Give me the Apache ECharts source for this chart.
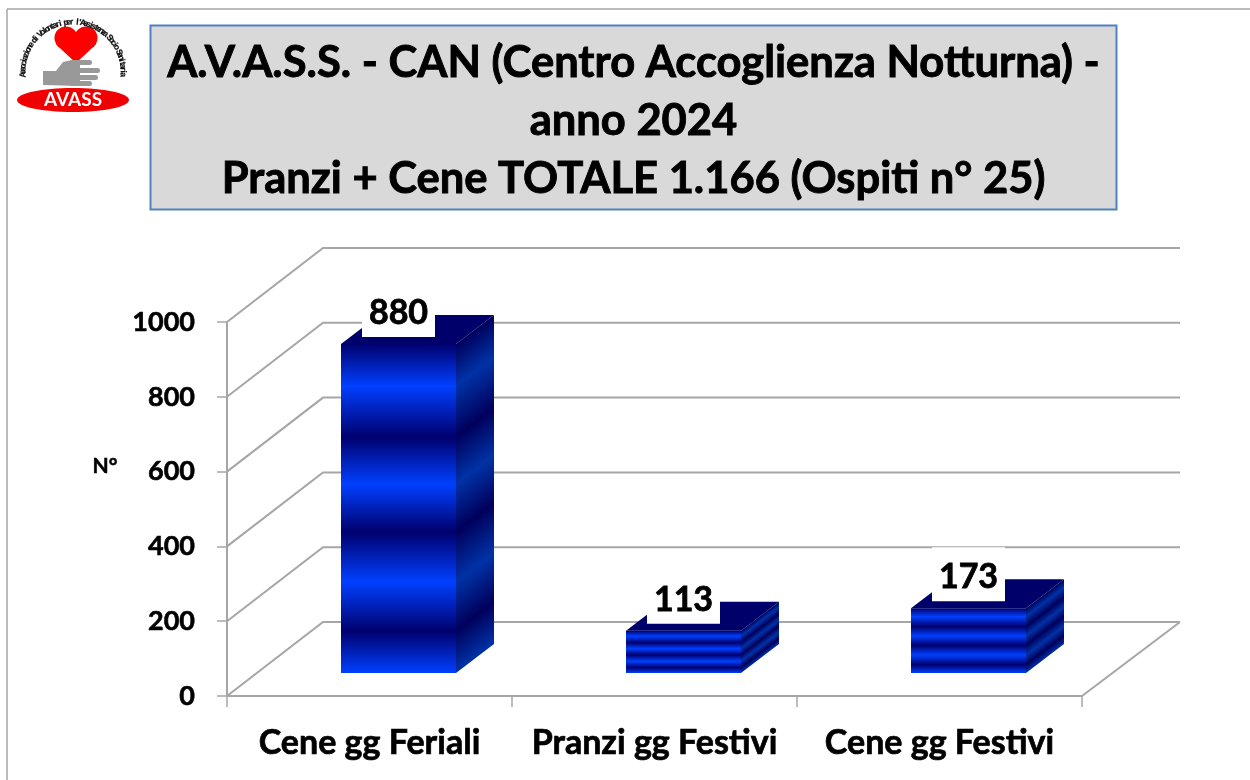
<!DOCTYPE html>
<html>
<head>
<meta charset="utf-8">
<style>html,body{margin:0;padding:0;background:#fff}#c{width:1250px;height:780px}</style>
<script src="https://cdn.jsdelivr.net/npm/echarts@6/dist/echarts.min.js"></script>
</head>
<body>
<div id="c"></div>
<script>
const categories = ['Cene gg Feriali', 'Pranzi gg Festivi', 'Cene gg Festivi'];
const values = [880, 113, 173];
const yTicks = [0, 200, 400, 600, 800, 1000];
const titleLines = ['A.V.A.S.S. - CAN (Centro Accoglienza Notturna) -', 'anno 2024', 'Pranzi + Cene TOTALE 1.166 (Ospiti n° 25)'];
const yName = 'N°';
const logoRing = "Associazione di Volontari per l'Assistenza Socio Sanitaria";
const logoName = 'AVASS';

const FONT = 'Lato, "Open Sans", sans-serif';
const GREY = '#A6A6A6';
const WALL = { dx: 96, dy: -74, floorRight: 98 };
const BAR = { w: 115, shift: 29, dx: 38, dy: -29, lift: 23 };
const bandPos = [0, 0.128, 0.283, 0.426, 0.571, 0.723, 0.872, 1];
const frontCols = ['#00006E', '#0040FF'];
const sideCols = ['#00005C', '#0032A6'];
const stops = cols => bandPos.map((offset, i) => ({ offset, color: cols[i % 2] }));

function renderWall(params, api) {
  const cs = params.coordSys;
  const y = api.coord([0, api.value(1)])[1];
  const L = cs.x, R = cs.x + cs.width;
  const style = { stroke: GREY, lineWidth: 2, fill: null };
  const kids = [
    { type: 'polyline', shape: { points: [[L, y], [L + WALL.dx, y + WALL.dy], [R + WALL.floorRight, y + WALL.dy]] }, style }
  ];
  if (api.value(1) === 0) {
    kids.push({ type: 'line', shape: { x1: R, y1: y, x2: R + WALL.floorRight, y2: y + WALL.dy }, style });
  }
  return { type: 'group', children: kids };
}

function renderBar(params, api) {
  const top = api.coord([api.value(0), api.value(1)]);
  const base = api.coord([api.value(0), 0]);
  const x0 = top[0] + BAR.shift - BAR.w / 2, x1 = x0 + BAR.w;
  const yT = top[1] - BAR.lift, yB = base[1] - BAR.lift;
  const h = yB - yT;
  const nx = (-BAR.dy / BAR.dx) / h, ny = 1 / h, n2 = nx * nx + ny * ny;
  const sideGrad = new echarts.graphic.LinearGradient(x1, yT, x1 + nx / n2, yT + ny / n2, stops(sideCols), true);
  const frontGrad = new echarts.graphic.LinearGradient(0, yT, 0, yB, stops(frontCols), true);
  const boxW = 73, boxH = 54, boxX = x0 + 21;
  return {
    type: 'group',
    children: [
      { type: 'polygon', shape: { points: [[x0, yT], [x0 + BAR.dx, yT + BAR.dy], [x1 + BAR.dx, yT + BAR.dy], [x1, yT]] }, style: { fill: '#00006A' } },
      { type: 'polygon', shape: { points: [[x1, yT], [x1 + BAR.dx, yT + BAR.dy], [x1 + BAR.dx, yB + BAR.dy], [x1, yB]] }, style: { fill: sideGrad } },
      { type: 'rect', shape: { x: x0, y: yT, width: BAR.w, height: h }, style: { fill: frontGrad } },
      { type: 'rect', shape: { x: boxX, y: yT - 7 - boxH, width: boxW, height: boxH }, style: { fill: '#fff' } },
      { type: 'text', x: boxX + boxW / 2, y: yT - 31, style: { text: String(api.value(1)), fill: '#000', stroke: '#000', lineWidth: 0.8, font: 'bold 34px ' + FONT, align: 'center', verticalAlign: 'middle' } }
    ]
  };
}

const ringCenter = [73, 72], ringR = 50, ringSpan = 186;
const ringEls = Array.from(logoRing).map((ch, i, arr) => {
  const deg = -ringSpan / 2 + ringSpan * i / (arr.length - 1);
  const t = deg * Math.PI / 180;
  return {
    type: 'text', z: 3, x: ringCenter[0] + ringR * Math.sin(t), y: ringCenter[1] - ringR * Math.cos(t), rotation: -t,
    style: { text: ch, fill: '#111', stroke: '#111', lineWidth: 0.2, font: 'bold 8.5px "Liberation Sans Narrow", "Liberation Sans", sans-serif', align: 'center', verticalAlign: 'middle' }
  };
});

const chart = echarts.init(document.getElementById('c'), null, { renderer: 'canvas' });
chart.setOption({
  animation: false,
  backgroundColor: '#fff',
  title: {
    text: titleLines.join('\n'), left: 628.5, top: 29, textAlign: 'center',
    textStyle: { fontFamily: FONT, fontWeight: 'bold', fontSize: 43.5, lineHeight: 58, color: '#000', textBorderColor: '#000', textBorderWidth: 0.9 }
  },
  grid: { left: 227, right: 168, top: 322, bottom: 84 },
  xAxis: {
    type: 'category', data: categories,
    axisLine: { show: true, lineStyle: { color: GREY, width: 2 } },
    axisTick: { show: true, alignWithLabel: false, length: 11, lineStyle: { color: GREY, width: 1.5 } },
    axisLabel: { color: '#000', fontFamily: FONT, fontWeight: 'bold', fontSize: 34, margin: 30, interval: 0, textBorderColor: '#000', textBorderWidth: 0.7 }
  },
  yAxis: {
    type: 'value', min: 0, max: 1000, interval: 200,
    axisLine: { show: true, lineStyle: { color: GREY, width: 2 } },
    axisTick: { show: true, length: 10, lineStyle: { color: GREY, width: 1.5 } },
    axisLabel: { color: '#000', fontFamily: FONT, fontWeight: 'bold', fontSize: 27, margin: 32, textBorderColor: '#000', textBorderWidth: 0.6, formatter: v => String(v) },
    splitLine: { show: false }
  },
  series: [
    { type: 'custom', z: 1, silent: true, renderItem: renderWall, encode: { x: 0, y: 1 }, data: yTicks.map(v => [0, v]) },
    { type: 'custom', z: 2, silent: true, renderItem: renderBar, encode: { x: 0, y: 1 }, data: values.map((v, i) => [i, v]) }
  ],
  graphic: [
    { type: 'line', shape: { x1: 7, y1: 9, x2: 1250, y2: 9 }, style: { stroke: GREY, lineWidth: 1.5 }, z: 0 },
    { type: 'line', shape: { x1: 7, y1: 9, x2: 7, y2: 780 }, style: { stroke: GREY, lineWidth: 1.5 }, z: 0 },
    { type: 'rect', shape: { x: 150.5, y: 25.5, width: 966, height: 184 }, style: { fill: '#D9D9D9', stroke: '#4F81BD', lineWidth: 2 }, z: 0 },
    { type: 'text', x: 105, y: 466, style: { text: yName, fill: '#000', stroke: '#000', lineWidth: 0.5, font: 'bold 21px ' + FONT, align: 'center', verticalAlign: 'middle' }, z: 3 },
    // logo
    { type: 'circle', z: 3, shape: { cx: 66, cy: 38, r: 11.5 }, style: { fill: '#FF0000' } },
    { type: 'circle', z: 3, shape: { cx: 86, cy: 38, r: 11.5 }, style: { fill: '#FF0000' } },
    { type: 'polygon', z: 3, shape: { points: [[56, 44], [62, 50], [76, 63], [90, 50], [96, 44], [90, 34], [76, 32], [62, 34]] }, style: { fill: '#FF0000' } },
    { type: 'polygon', z: 3, shape: { points: [[43, 71], [56, 71], [63, 62], [72, 60], [80, 62], [80, 86], [43, 85]] }, style: { fill: '#999999' } },
    { type: 'rect', z: 3, shape: { x: 70, y: 60, width: 22, height: 5, r: 2.5 }, style: { fill: '#999999' } },
    { type: 'rect', z: 3, shape: { x: 70, y: 68, width: 30, height: 5, r: 2.5 }, style: { fill: '#999999' } },
    { type: 'rect', z: 3, shape: { x: 70, y: 75, width: 28, height: 5, r: 2.5 }, style: { fill: '#999999' } },
    { type: 'rect', z: 3, shape: { x: 70, y: 81, width: 22, height: 5, r: 2.5 }, style: { fill: '#999999' } },
    { type: 'ellipse', z: 3, shape: { cx: 73, cy: 100, rx: 56, ry: 12 }, style: { fill: '#F00000' } },
    { type: 'text', z: 4, x: 73, y: 100, style: { text: logoName, fill: '#fff', font: 'bold 19px "Liberation Sans Narrow", Lato, sans-serif', align: 'center', verticalAlign: 'middle' } },
    ...ringEls
  ]
});
</script>
</body>
</html>
